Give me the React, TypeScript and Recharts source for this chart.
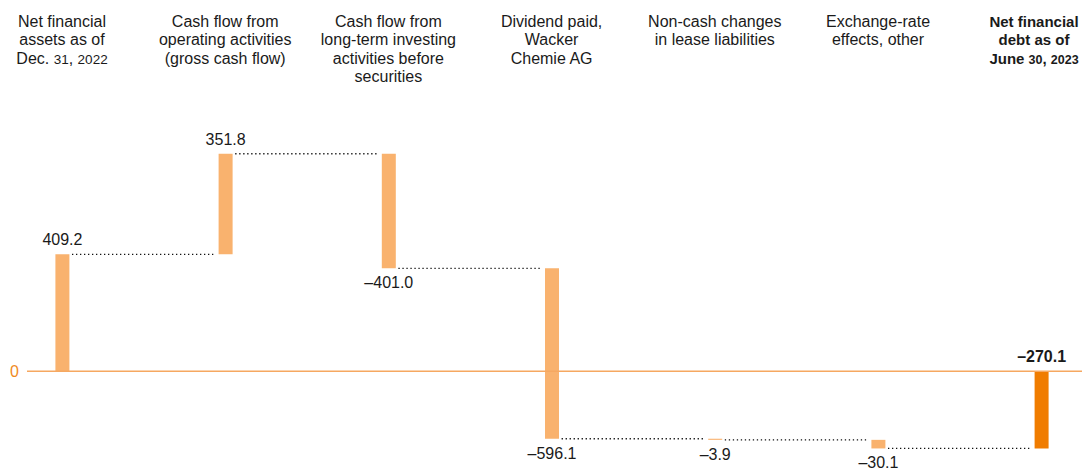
import React from "react";
import { ComposedChart, Bar, XAxis, YAxis, ReferenceLine, Cell, LabelList } from "recharts";

const categories: string[][] = [
  ["Net financial", "assets as of", "Dec. 31, 2022"],
  ["Cash flow from", "operating activities", "(gross cash flow)"],
  ["Cash flow from", "long-term investing", "activities before", "securities"],
  ["Dividend paid,", "Wacker", "Chemie AG"],
  ["Non-cash changes", "in lease liabilities"],
  ["Exchange-rate", "effects, other"],
  ["Net financial", "debt as of", "June 30, 2023"],
];
const values = [409.2, 351.8, -401.0, -596.1, -3.9, -30.1, -270.1];
const isTotal = [true, false, false, false, false, false, true];
const yTicks = [0];

const W = 1085;
const H = 472;
const MARGIN = { top: 0, right: 3, bottom: 15, left: 0 };
const Y_AXIS_W = 27;
const X_AXIS_H = 114;
const X_DOMAIN: [number, number] = [-0.2145, 6.25];
const Y_DOMAIN: [number, number] = [-300, 900];
const BAR_SIZE = 14;

const LIGHT = "#F9B26E";
const DARK = "#F07C00";
const TEXT = "#1a1a1a";
const FONT = "'Liberation Sans', Arial, Helvetica, sans-serif";

const lastIdx = values.length - 1;

let cum = 0;
const data = values.map((v, i) => {
  let low: number, high: number, end: number;
  if (isTotal[i]) {
    low = Math.min(0, v);
    high = Math.max(0, v);
    end = v;
  } else {
    end = cum + v;
    low = Math.min(cum, end);
    high = Math.max(cum, end);
  }
  cum = end;
  return { idx: i, range: [low, high], value: v, end, total: isTotal[i] };
});

const plotW = W - MARGIN.left - MARGIN.right - Y_AXIS_W;
const pxPerUnit = plotW / (X_DOMAIN[1] - X_DOMAIN[0]);
const gapOff = (BAR_SIZE / 2 + 3) / pxPerUnit;

const fmt = (v: number) => (v < 0 ? "\u2013" : "") + Math.abs(v).toFixed(1);

const renderRuns = (line: string, small: number) =>
  line.split(/(\d+)/).filter((s) => s.length).map((s, k) =>
    /^\d+$/.test(s) ? (
      <tspan key={k} fontSize={small}>{s}</tspan>
    ) : (
      <tspan key={k}>{s}</tspan>
    )
  );

const HeaderTick = (props: any) => {
  const { x, payload } = props;
  const i = payload.value as number;
  const lines = categories[i];
  if (!lines) return null;
  const cx = Math.min(Math.max(x, 58), 1034);
  const bold = i === lastIdx;
  const fs = bold ? 15 : 16;
  return (
    <text x={cx} textAnchor="middle" fontSize={fs} fontWeight={bold ? 700 : 400} fill={TEXT} fontFamily={FONT}>
      {lines.map((line, k) => (
        <tspan key={k} x={cx} y={26.7 + k * 18.4}>
          {renderRuns(line, fs - 2.5)}
        </tspan>
      ))}
    </text>
  );
};

const ValueLabel = (props: any) => {
  const { x, y, width, height, index } = props;
  const d = data[index];
  if (!d) return null;
  const top = Math.min(y, y + height);
  const bottom = Math.max(y, y + height);
  const above = d.total || d.value > 0;
  const bold = index === lastIdx;
  return (
    <text
      x={x + width / 2}
      y={above ? top - 9 : bottom + 20}
      textAnchor="middle"
      fontSize={16}
      fontWeight={bold ? 700 : 400}
      fill={TEXT}
      fontFamily={FONT}
    >
      {fmt(d.value)}
    </text>
  );
};

export default function App() {
  return (
    <div style={{ position: "absolute", left: 0, top: 0, width: W, height: H, background: "#fff" }}>
      <ComposedChart width={W} height={H} data={data} margin={MARGIN}>
        <XAxis
          dataKey="idx"
          type="number"
          orientation="top"
          domain={X_DOMAIN}
          allowDataOverflow
          ticks={data.map((d) => d.idx)}
          interval={0}
          height={X_AXIS_H}
          axisLine={false}
          tickLine={false}
          tick={<HeaderTick />}
        />
        <YAxis
          type="number"
          domain={Y_DOMAIN}
          allowDataOverflow
          ticks={yTicks}
          width={Y_AXIS_W}
          axisLine={false}
          tickLine={false}
          tick={{ fill: "#F08A1E", fontSize: 16, fontFamily: FONT }}
        />
        <ReferenceLine y={0} stroke="#F6A861" strokeWidth={1.5} />
        {data.slice(0, lastIdx).map((d, i) => (
          <ReferenceLine
            key={"c" + i}
            segment={[
              { x: d.idx + gapOff, y: d.end },
              { x: data[i + 1].idx - gapOff, y: d.end },
            ]}
            stroke="#111"
            strokeWidth={1.3}
            strokeDasharray="1.3 2.7"
          />
        ))}
        <Bar dataKey="range" barSize={BAR_SIZE} isAnimationActive={false}>
          {data.map((d, i) => (
            <Cell key={i} fill={i === lastIdx ? DARK : LIGHT} />
          ))}
          <LabelList dataKey="value" content={<ValueLabel />} />
        </Bar>
      </ComposedChart>
    </div>
  );
}
